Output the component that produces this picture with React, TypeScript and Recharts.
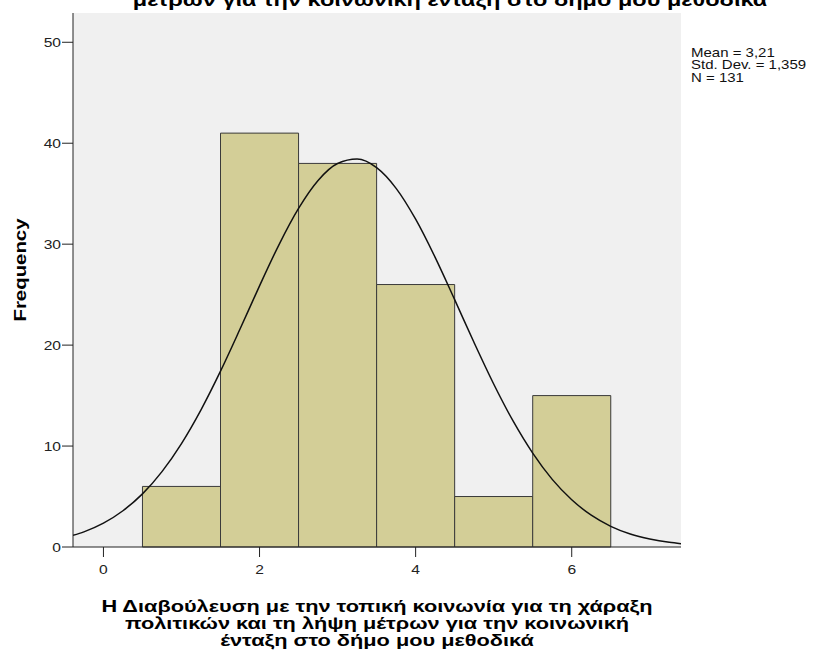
import React from 'react'
import {
  ComposedChart,
  Line,
  XAxis,
  YAxis,
  ReferenceArea,
  CartesianGrid,
  Label,
} from 'recharts'

// histogram bins (centre value) and counts
const binCenters = [1, 2, 3, 4, 5, 6]
const binCounts = [6, 41, 38, 26, 5, 15]

// fitted normal curve
const curveX = [
  -0.39, -0.25, 0, 0.25, 0.5, 0.75, 1, 1.25, 1.5, 1.75, 2, 2.25, 2.5, 2.75, 3, 3.25,
  3.5, 3.75, 4, 4.25, 4.5, 4.75, 5, 5.25, 5.5, 5.75, 6, 6.25, 6.5, 6.75, 7, 7.25, 7.4,
]
const curveY = [
  1.15, 1.5, 2.36, 3.59, 5.26, 7.47, 10.25, 13.59, 17.42, 21.59, 25.87, 29.96, 33.54,
  36.31, 37.99, 38.43, 37.58, 35.53, 32.47, 28.69, 24.5, 20.23, 16.15, 12.46, 9.3, 6.7,
  4.68, 3.15, 2.05, 1.29, 0.79, 0.46, 0.33,
]

const xTicks = [0, 2, 4, 6]
const yTicks = [0, 10, 20, 30, 40, 50]

const titleTail = 'μέτρων για την κοινωνική ένταξη στο δήμο μου μεθοδικά'
const xLabelLines = [
  'Η Διαβούλευση με την τοπική κοινωνία για τη χάραξη',
  'πολιτικών και τη λήψη μέτρων για την κοινωνική',
  'ένταξη στο δήμο μου μεθοδικά',
]
const statsLines = ['Mean = 3,21', 'Std. Dev. = 1,359', 'N = 131']

const curveData = curveX.map((x, i) => ({ x, y: curveY[i] }))

const FONT = '"Liberation Sans", Arial, sans-serif'
// the original renders its text a bit wider than Arial
const WIDE = 1.2

function XTick(props: any) {
  const { x, y, payload } = props
  return (
    <g transform={`translate(${x},${y}) scale(${WIDE},1)`}>
      <text x={0} y={0} dy={12} textAnchor="middle" fontFamily={FONT} fontSize={13} fill="#222">
        {payload.value}
      </text>
    </g>
  )
}

function YTick(props: any) {
  const { x, y, payload } = props
  return (
    <g transform={`translate(${x},${y}) scale(${WIDE},1)`}>
      <text x={0} y={0} dy={4.5} textAnchor="end" fontFamily={FONT} fontSize={13} fill="#222">
        {payload.value}
      </text>
    </g>
  )
}

function XTitle(props: any) {
  const vb = props.viewBox
  const cx = vb.x + vb.width / 2
  return (
    <g transform={`translate(${cx},${vb.y + 65}) scale(1.36,1)`}>
      <text x={0} y={0} textAnchor="middle" fontFamily={FONT} fontSize={16} fontWeight="bold" fill="#000">
        {xLabelLines.map((line, i) => (
          <tspan key={i} x={0} dy={i === 0 ? 0 : 17}>
            {line}
          </tspan>
        ))}
      </text>
    </g>
  )
}

function YTitle(props: any) {
  const vb = props.viewBox
  return (
    <g transform={`translate(26,${vb.y + vb.height / 2 - 10}) rotate(-90) scale(1.2,1)`}>
      <text x={0} y={0} textAnchor="middle" fontFamily={FONT} fontSize={17} fontWeight="bold" fill="#000">
        Frequency
      </text>
    </g>
  )
}

export default function App() {
  return (
    <div style={{ position: 'absolute', left: 0, top: 0, width: 816, height: 657, background: '#fff' }}>
      <ComposedChart
        width={816}
        height={657}
        data={curveData}
        margin={{ top: 13, right: 135, bottom: 0, left: 0 }}
      >
        <CartesianGrid fill="#f0f0f0" horizontal={false} vertical={false} />
        <XAxis
          dataKey="x"
          type="number"
          domain={[-0.39, 7.4]}
          ticks={xTicks}
          allowDataOverflow
          height={110}
          tickSize={10}
          tickMargin={5}
          stroke="#222"
          tick={<XTick />}
        >
          <Label content={<XTitle />} />
        </XAxis>
        <XAxis xAxisId="top" orientation="top" type="number" domain={[-0.39, 7.4]} height={0} tick={false} tickLine={false} stroke="#777" />
        <YAxis
          type="number"
          domain={[0, 52.9]}
          ticks={yTicks}
          allowDataOverflow
          width={73}
          tickSize={11}
          tickMargin={1}
          stroke="#222"
          tick={<YTick />}
        >
          <Label content={<YTitle />} />
        </YAxis>
        <YAxis yAxisId="right" orientation="right" type="number" domain={[0, 52.9]} width={0} tick={false} tickLine={false} stroke="#777" />
        {binCenters.map((c, i) => (
          <ReferenceArea
            key={c}
            x1={c - 0.5}
            x2={c + 0.5}
            y1={0}
            y2={binCounts[i]}
            fill="#d3ce97"
            fillOpacity={1}
            stroke="#3a3a3a"
            strokeWidth={1}
          />
        ))}
        <Line
          dataKey="y"
          type="monotone"
          dot={false}
          activeDot={false}
          stroke="#111"
          strokeWidth={1.5}
          isAnimationActive={false}
        />
      </ComposedChart>
      <svg
        width={816}
        height={657}
        style={{ position: 'absolute', left: 0, top: 0, pointerEvents: 'none' }}
      >
        <g transform="translate(450,6) scale(1.24,1)">
          <text x={0} y={0} textAnchor="middle" fontFamily={FONT} fontSize={19} fontWeight="bold" fill="#000">
            {titleTail}
          </text>
        </g>
        <g transform={`translate(691,57) scale(${WIDE},1)`}>
          <text x={0} y={0} fontFamily={FONT} fontSize={12.5} fill="#111">
            {statsLines.map((s, i) => (
              <tspan key={s} x={0} dy={i === 0 ? 0 : 12.5}>
                {s}
              </tspan>
            ))}
          </text>
        </g>
      </svg>
    </div>
  )
}
